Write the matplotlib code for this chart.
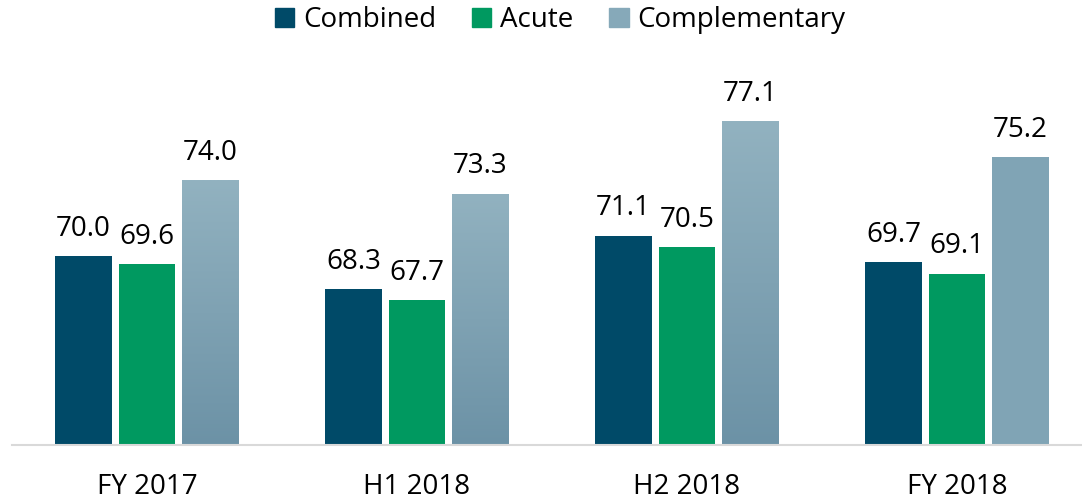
import matplotlib.pyplot as plt
import numpy as np
from matplotlib.colors import LinearSegmentedColormap
from matplotlib.patches import Patch

# values
periods = ['FY 2017', 'H1 2018', 'H2 2018', 'FY 2018']
series = ['Combined', 'Acute', 'Complementary']
combined = [70.0, 68.3, 71.1, 69.7]
acute = [69.6, 67.7, 70.5, 69.1]
complementary = [74.0, 73.3, 77.1, 75.2]

col_combined = '#004a68'
col_acute = '#009960'
# complementary bars have a soft top-to-bottom gradient
grad_top = '#92b2c0'
grad_bottom = '#6c92a6'

plt.rcParams['font.family'] = 'Open Sans'

fig = plt.figure(figsize=(10.82, 5), dpi=100)
ax = fig.add_axes([12 / 1082, 0.11, 1080 / 1082, 0.758])

x = np.arange(len(periods))
width = 0.211
step = 0.235

bars_c = ax.bar(x - step, combined, width, color=col_combined)
bars_a = ax.bar(x, acute, width, color=col_acute)
bars_p = ax.bar(x + step, complementary, width, color='#80a4b5')

# gradient fill for the complementary bars (last one is flat in the original)
cmap = LinearSegmentedColormap.from_list('comp', [grad_bottom, grad_top])
grad = np.linspace(0, 1, 256).reshape(-1, 1)
for i, b in enumerate(bars_p):
    if i == len(bars_p) - 1:
        continue
    x0 = b.get_x()
    x1 = x0 + b.get_width()
    im = ax.imshow(grad, cmap=cmap, origin='lower', aspect='auto',
                   extent=(x0, x1, 60.1, b.get_height()), zorder=b.get_zorder() + 0.1)
    im.set_clip_path(b)
ax.set_xlim(-0.5, 3.5)
ax.set_ylim(60.1, 80)

for bars in (bars_c, bars_a, bars_p):
    for b in bars:
        ax.annotate(f'{b.get_height():.1f}', (b.get_x() + b.get_width() / 2, b.get_height()),
                    xytext=(0, 14.5), textcoords='offset points',
                    ha='center', va='baseline', fontsize=20, color='black')

ax.set_xticks(x)
ax.set_xticklabels(periods, fontsize=20)
ax.tick_params(axis='x', length=0, pad=20)
ax.set_yticks([])
for s in ['top', 'left', 'right']:
    ax.spines[s].set_visible(False)
ax.spines['bottom'].set_color('#d9d9d9')
ax.spines['bottom'].set_linewidth(1.5)

handles = [Patch(color=col_combined), Patch(color=col_acute), Patch(color='#86a9b9')]
fig.legend(handles, series, loc='center', bbox_to_anchor=(560 / 1082, 0.96), ncol=3,
           frameon=False, fontsize=20, handlelength=0.7, handleheight=0.7,
           handletextpad=0.3, columnspacing=1.3)

fig.savefig('out.png', dpi=100)
